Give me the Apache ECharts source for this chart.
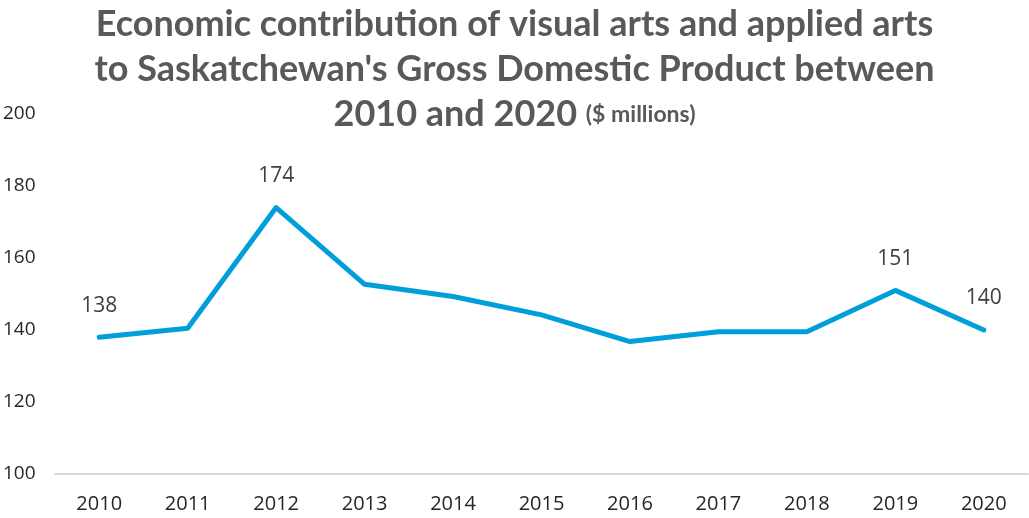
<!DOCTYPE html>
<html>
<head>
<meta charset="utf-8">
<script src="https://cdn.jsdelivr.net/npm/echarts@6/dist/echarts.min.js"></script>
<style>
  html, body { margin: 0; padding: 0; background: #fff; }
  #chart { width: 1029px; height: 518px; }
</style>
</head>
<body>
<div id="chart"></div>
<script>
// GDP contribution, $ millions
const years = ['2010', '2011', '2012', '2013', '2014', '2015', '2016', '2017', '2018', '2019', '2020'];
const gdp = [138, 140.5, 174, 152.7, 149.3, 144.2, 136.8, 139.5, 139.5, 151, 140];
const labelledYears = ['2010', '2012', '2019', '2020'];

const titleLines = [
  'Economic contribution of visual arts and applied arts',
  "to Saskatchewan's Gross Domestic Product between",
  '2010 and 2020'
];
const titleUnit = '($ millions)';

const seriesData = gdp.map((v, i) => ({
  value: v,
  label: { show: labelledYears.includes(years[i]) }
}));

const chart = echarts.init(document.getElementById('chart'));
chart.setOption({
  animation: false,
  title: {
    left: 'center',
    top: -3,
    text: '{a|' + titleLines[0] + '}\n{a|' + titleLines[1] + '}\n{a|' + titleLines[2] + ' }{b|' + titleUnit + '}',
    textStyle: {
      rich: {
        a: { fontFamily: 'Lato', fontWeight: 'bold', fontSize: 36, color: '#595959', lineHeight: 45 },
        b: { fontFamily: 'Lato', fontWeight: 'bold', fontSize: 23, color: '#595959', lineHeight: 45 }
      }
    }
  },
  grid: { left: 55, right: 1, top: 114, bottom: 44, containLabel: false },
  xAxis: {
    type: 'category',
    data: years,
    boundaryGap: true,
    axisLine: { show: true, lineStyle: { color: '#d9d9d9', width: 2 } },
    axisTick: { show: false },
    axisLabel: { color: '#262626', fontSize: 20, fontFamily: 'Open Sans', margin: 20 }
  },
  yAxis: {
    type: 'value',
    min: 100,
    max: 200,
    interval: 20,
    axisLine: { show: false },
    axisTick: { show: false },
    splitLine: { show: false },
    axisLabel: { color: '#262626', fontSize: 19, fontFamily: 'Open Sans', align: 'left', margin: 52 }
  },
  series: [{
    type: 'line',
    data: seriesData,
    symbol: 'circle',
    symbolSize: 2,
    showSymbol: true,
    lineStyle: { color: '#009fda', width: 5, cap: 'round', join: 'round' },
    itemStyle: { color: '#009fda' },
    label: {
      show: false,
      position: 'top',
      distance: 20,
      color: '#404040',
      fontSize: 21,
      fontFamily: 'Open Sans',
      formatter: p => Math.round(p.value)
    }
  }]
});
</script>
</body>
</html>
